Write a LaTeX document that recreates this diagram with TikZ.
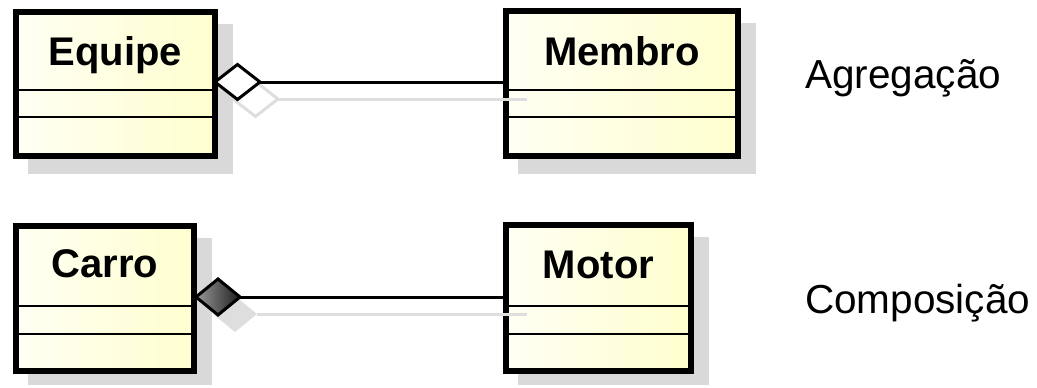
\documentclass[tikz,border=0pt]{standalone}
\usepackage{fontspec}
\setmainfont{Liberation Sans}
\definecolor{classfillA}{HTML}{FFFFF4}
\definecolor{classfillB}{HTML}{FEFECE}
\definecolor{shadowgray}{HTML}{D9D9D9}
\definecolor{lineshadow}{HTML}{DEDEDE}
\begin{document}
\begin{tikzpicture}[x=1pt,y=-1pt,
  classbox/.style={rectangle, draw=black, line width=6pt, inner sep=0pt, outer sep=0pt,
    left color=classfillA, right color=classfillB},
  boxshadow/.style={fill=shadowgray, draw=none},
  divider/.style={draw=black, line width=2.6pt},
  classname/.style={font=\fontsize{40}{48}\selectfont\bfseries, inner sep=0pt, anchor=base},
  assoclabel/.style={font=\fontsize{40.5}{48}\selectfont, inner sep=0pt, anchor=base west},
  assoc/.style={draw=black, line width=3pt},
  assocshadow/.style={draw=lineshadow, line width=3pt},
  hollowdiamond/.style={draw=black, line width=3pt, fill=white, line join=miter},
  filleddiamond/.style={draw=black, line width=3pt, left color=black!40, right color=black!88, line join=miter},
]
\useasboundingbox (0,0) rectangle (1037,388);

% drop shadows of the four classes
\fill[boxshadow] (28,24) rectangle (233,174);
\fill[boxshadow] (518,23) rectangle (756,174);
\fill[boxshadow] (28,238) rectangle (212,385);
\fill[boxshadow] (518,237) rectangle (709,385);

% classes
\node[classbox, minimum width=199pt, minimum height=144pt] (equipe) at (115.5,84) {};
\node[classbox, minimum width=232pt, minimum height=145pt] (membro) at (622,83.5) {};
\node[classbox, minimum width=178pt, minimum height=145pt] (carro) at (105,298.5) {};
\node[classbox, minimum width=185pt, minimum height=146pt] (motor) at (598.5,298) {};

% attribute and operation compartments
\foreach \c/\a/\b in {equipe/78/105, membro/79/106, carro/80/108, motor/81/109} {
  \draw[divider] ([yshift=-\a pt]\c.north west) -- ([yshift=-\a pt]\c.north east);
  \draw[divider] ([yshift=-\b pt]\c.north west) -- ([yshift=-\b pt]\c.north east);
}

% class names
\node[classname] (equipe-name) at ([yshift=-53pt]equipe.north) {Equipe};
\node[classname] (membro-name) at ([yshift=-54pt]membro.north) {Membro};
\node[classname] (carro-name) at ([yshift=-51pt]carro.north) {Carro};
\node[classname] (motor-name) at ([yshift=-53pt]motor.north) {Motor};

% aggregation: Equipe <>--- Membro
\coordinate (agg-tip) at (215,82);
\coordinate (agg-end) at (260,82);
\coordinate (agg-shadow-tip) at (233,99);
\coordinate (agg-shadow-end) at (278,99);
\draw[assocshadow, fill=white] (agg-shadow-tip) -- ++(22.5,-17.5) -- (agg-shadow-end) -- ++(-22.5,17.5) -- cycle;
\draw[assocshadow] (agg-shadow-end) -- (527,99);
\draw[assoc] (agg-end) -- (agg-end -| membro.west);
\draw[hollowdiamond] (agg-tip) -- ++(22.5,-17.5) -- (agg-end) -- ++(-22.5,17.5) -- cycle;

% composition: Carro <#>--- Motor
\coordinate (comp-tip) at (196,297);
\coordinate (comp-end) at (240,297);
\coordinate (comp-shadow-tip) at (213,314);
\coordinate (comp-shadow-end) at (257,314);
\fill[lineshadow] (comp-shadow-tip) -- ++(22,-18) -- (comp-shadow-end) -- ++(-22,18) -- cycle;
\draw[assocshadow] (comp-shadow-end) -- (527,314);
\draw[assoc] (comp-end) -- (comp-end -| motor.west);
\draw[filleddiamond] (comp-tip) -- ++(22,-18) -- (comp-end) -- ++(-22,18) -- cycle;

% relationship kinds
\node[assoclabel] (agg-label) at (805,88) {Agregação};
\node[assoclabel] (comp-label) at (805,313) {Composição};
\end{tikzpicture}
\end{document}
